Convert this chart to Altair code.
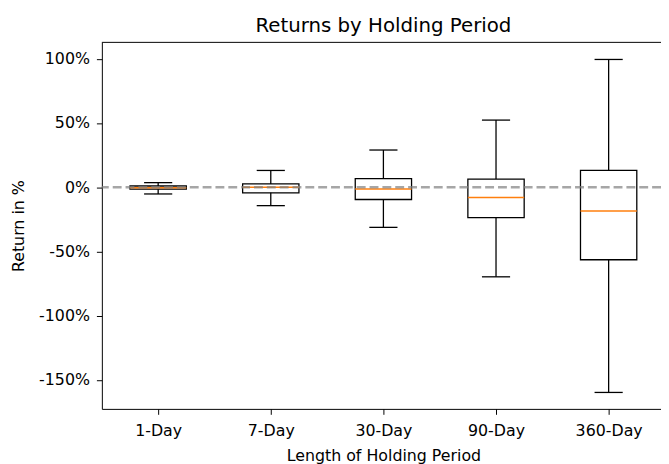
import altair as alt
import pandas as pd

categories = ["1-Day", "7-Day", "30-Day", "90-Day", "360-Day"]
whisker_low = [-5.2, -14.3, -31.2, -69.7, -159.7]
q1 = [-1.5, -4.3, -9.5, -23.6, -56.4]
median = [-0.3, 0.0, -1.3, -7.9, -18.5]
q3 = [1.0, 2.6, 6.7, 6.4, 13.1]
whisker_high = [3.6, 13.1, 29.0, 52.3, 99.5]
y_ticks = [-150, -100, -50, 0, 50, 100]
reference_line = [0]

df = pd.DataFrame({
    "cat": categories,
    "pos": list(range(1, len(categories) + 1)),
    "lo": whisker_low,
    "q1": q1,
    "med": median,
    "q3": q3,
    "hi": whisker_high,
})

W, H = 566, 371
FONT = "DejaVu Sans"

x_scale = alt.Scale(domain=[0.5, 0.5 + W / 114.0], nice=False, zero=False)
y_scale = alt.Scale(domain=[-172.5, 112.8], nice=False, zero=False)

label_expr = "[" + ",".join(f"'{c}'" for c in categories) + "][datum.value - 1]"

x_axis = alt.Axis(
    values=list(range(1, len(categories) + 1)),
    labelExpr=label_expr,
    title="Length of Holding Period",
    grid=False,
    labelBaseline="alphabetic",
    labelPadding=21,
    titleY=52,
    titleX=285,
    titleBaseline="alphabetic",
)
y_axis = alt.Axis(
    values=y_ticks,
    labelExpr="datum.value + '%'",
    title="Return in %",
    grid=False,
    labelPadding=7,
    titleX=-79,
    titleBaseline="alphabetic",
)

base = alt.Chart(df).transform_calculate(
    bl="datum.pos - 0.25",
    br="datum.pos + 0.25",
    cl="datum.pos - 0.125",
    cr="datum.pos + 0.125",
)

boxes = base.mark_rect(fill="white", stroke="black", strokeWidth=1.3).encode(
    x=alt.X("bl:Q", scale=x_scale, axis=x_axis),
    x2="br:Q",
    y=alt.Y("q1:Q", scale=y_scale, axis=y_axis),
    y2="q3:Q",
)

whisk_hi = base.mark_rule(color="black", strokeWidth=1.3).encode(
    x=alt.X("pos:Q", scale=x_scale, axis=x_axis),
    y=alt.Y("q3:Q", scale=y_scale, axis=y_axis),
    y2="hi:Q",
)
whisk_lo = base.mark_rule(color="black", strokeWidth=1.3).encode(
    x=alt.X("pos:Q", scale=x_scale, axis=x_axis),
    y=alt.Y("lo:Q", scale=y_scale, axis=y_axis),
    y2="q1:Q",
)
cap_hi = base.mark_rule(color="black", strokeWidth=1.3).encode(
    x=alt.X("cl:Q", scale=x_scale, axis=x_axis),
    x2="cr:Q",
    y=alt.Y("hi:Q", scale=y_scale, axis=y_axis),
)
cap_lo = base.mark_rule(color="black", strokeWidth=1.3).encode(
    x=alt.X("cl:Q", scale=x_scale, axis=x_axis),
    x2="cr:Q",
    y=alt.Y("lo:Q", scale=y_scale, axis=y_axis),
)
medians = base.mark_rule(color="#ff7f0e", strokeWidth=1.5).encode(
    x=alt.X("bl:Q", scale=x_scale, axis=x_axis),
    x2="br:Q",
    y=alt.Y("med:Q", scale=y_scale, axis=y_axis),
)

zero = alt.Chart(pd.DataFrame({"ref": reference_line})).mark_rule(
    color="#808080", opacity=0.7, strokeWidth=2.4, strokeDash=[9, 4]
).encode(
    y=alt.Y("ref:Q", scale=y_scale, axis=y_axis),
)

top_spine = alt.Chart(pd.DataFrame({"ref": reference_line})).mark_rule(
    color="black", strokeWidth=1
).encode(
    x=alt.value(0), x2=alt.value(W), y=alt.value(0)
)

chart = alt.layer(
    boxes, whisk_hi, whisk_lo, cap_hi, cap_lo, medians, zero, top_spine
).properties(
    width=W,
    height=H,
    title=alt.TitleParams(
        "Returns by Holding Period",
        fontSize=20,
        font=FONT,
        fontWeight="normal",
        color="black",
        anchor="middle",
        frame="group",
        baseline="alphabetic",
        offset=9,
        dx=2,
        dy=19,
    ),
    autosize=alt.AutoSizeParams(type="none"),
    padding={"left": 95, "top": 32, "right": 0, "bottom": 53},
).configure_view(
    stroke=None
).configure_axis(
    labelFont=FONT,
    titleFont=FONT,
    labelFontSize=16,
    titleFontSize=16,
    titleFontWeight="normal",
    labelColor="black",
    titleColor="black",
    tickColor="black",
    domainColor="black",
    tickSize=5.5,
    tickWidth=1,
    domainWidth=1,
)

chart.save("out.html", embed_options={"renderer": "svg", "actions": False})
